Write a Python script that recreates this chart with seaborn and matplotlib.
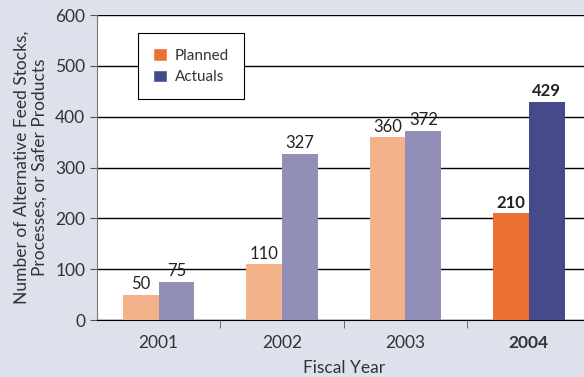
import pandas as pd
import seaborn as sns
import matplotlib
matplotlib.use('Agg')
import matplotlib.pyplot as plt
from matplotlib.patches import Patch

# data
years = ['2001', '2002', '2003', '2004']
planned = [50, 110, 360, 210]
actuals = [75, 327, 372, 429]

bg = '#dde1ec'
planned_col = '#f4b28a'
actual_col = '#918fb7'
planned_hi = '#ec6f33'  # 2004 highlighted
actual_hi = '#454b8a'

df = pd.DataFrame({
    'year': years * 2,
    'value': planned + actuals,
    'kind': ['Planned'] * len(years) + ['Actuals'] * len(years),
})

sns.set_style('white')
plt.rcParams['font.family'] = ['Lato', 'DejaVu Sans']

fig = plt.figure(figsize=(5.84, 3.77), dpi=100, facecolor=bg)
ax = fig.add_axes([0.166, 0.151, 0.845, 0.809])
ax.set_facecolor('white')

sns.barplot(data=df, x='year', y='value', hue='kind', order=years,
            hue_order=['Planned', 'Actuals'], palette=[planned_col, actual_col],
            saturation=1, width=0.58, gap=0, ax=ax, legend=False, zorder=3)

# recolour the 2004 bars and label every bar
for i, cont in enumerate(ax.containers):
    for j, bar in enumerate(cont):
        last = j == len(years) - 1
        if last:
            bar.set_facecolor(planned_hi if i == 0 else actual_hi)
        bar.set_edgecolor('none')
        ax.text(bar.get_x() + bar.get_width() / 2, bar.get_height() + 5,
                f'{int(bar.get_height())}', ha='center', va='bottom',
                fontsize=12, color='#222222',
                fontweight='bold' if last else 'normal', zorder=4)

ax.set_ylim(0, 600)
ax.set_xlim(-0.5, 3.5)
ax.set_yticks(range(0, 601, 100))
ax.yaxis.grid(True, color='black', linewidth=1)
ax.set_axisbelow(True)
for s in ['top', 'right']:
    ax.spines[s].set_visible(False)
ax.spines['left'].set_color('#777777')
ax.spines['bottom'].set_color('black')

ax.tick_params(axis='y', length=5, left=True, labelsize=12.5, colors='#333333', color='#555555')
ax.tick_params(axis='x', length=0, labelsize=12.5, colors='#333333', pad=11)
ax.set_xticks(range(len(years)))
ax.set_xticks([0.5, 1.5, 2.5], minor=True)
ax.tick_params(axis='x', which='minor', length=6, bottom=True, color='#555555')
ax.get_xticklabels()[-1].set_fontweight('bold')

ax.set_xlabel('Fiscal Year', fontsize=12.5, color='#333333', labelpad=6)
ax.set_ylabel('Number of Alternative Feed Stocks,\nProcesses, or Safer Products',
              fontsize=12.5, color='#333333', labelpad=5)

handles = [Patch(facecolor=planned_hi, label='Planned'), Patch(facecolor=actual_hi, label='Actuals')]
leg = ax.legend(handles=handles, loc='upper left', bbox_to_anchor=(0.083, 0.942),
                frameon=True, fancybox=False, framealpha=1, edgecolor='black',
                fontsize=11, handlelength=0.9, handleheight=0.9, borderpad=1.0,
                labelspacing=0.45, handletextpad=0.5, borderaxespad=0)
leg.get_frame().set_linewidth(0.8)
leg.set_zorder(5)
for t in leg.get_texts():
    t.set_color('#333333')

plt.savefig('out.png', dpi=100, facecolor=bg)
plt.close(fig)
